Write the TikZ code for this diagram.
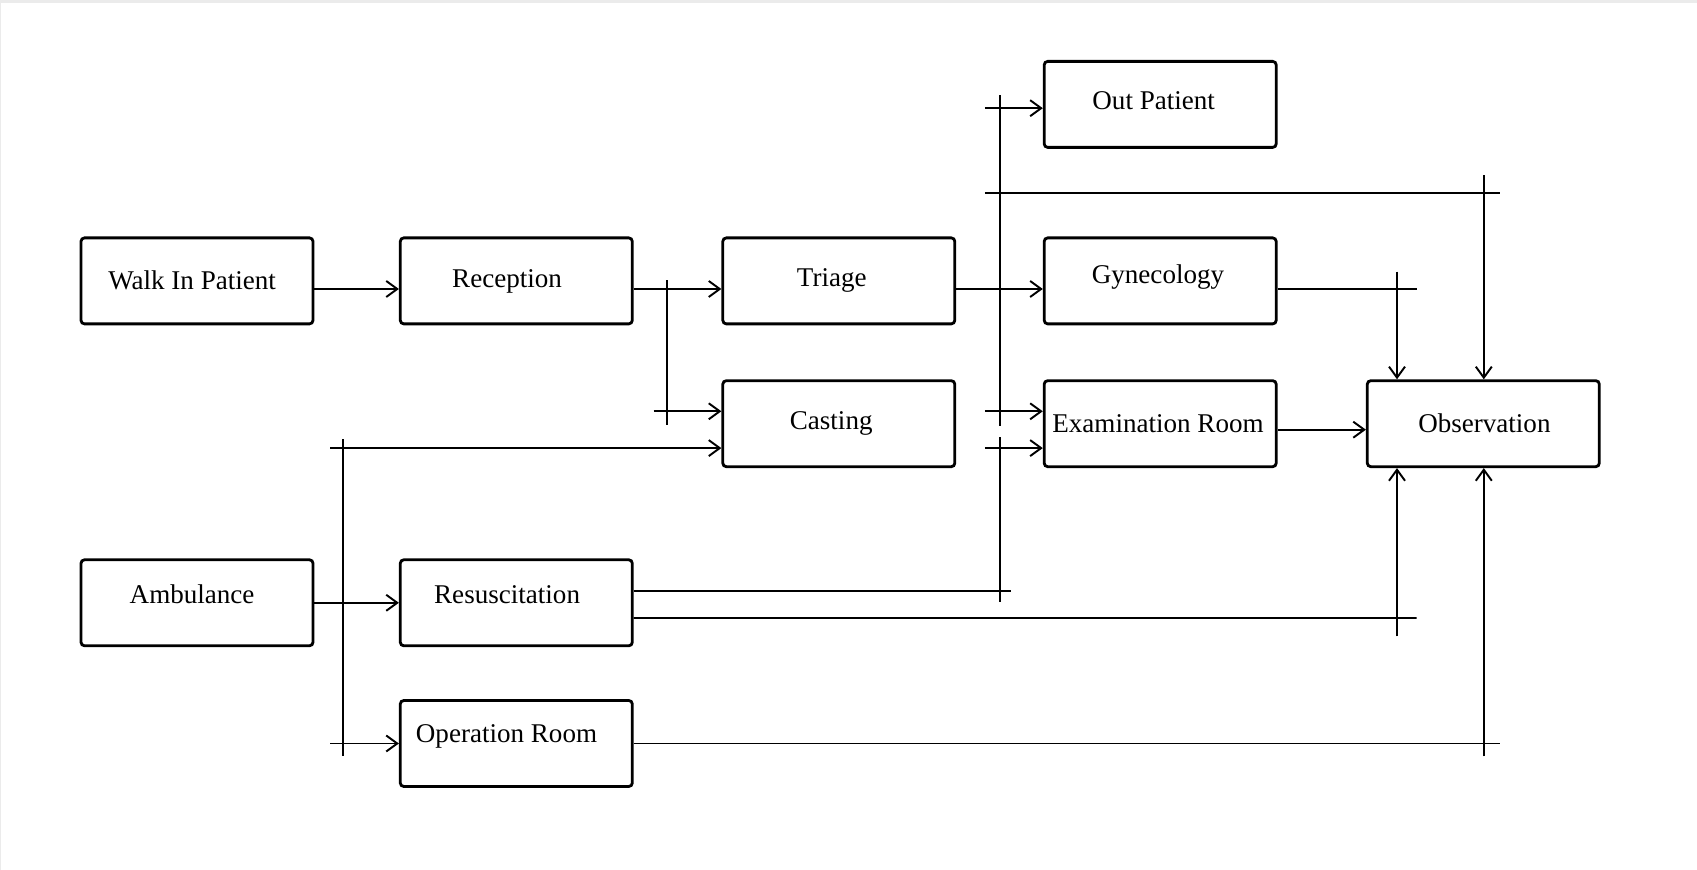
\documentclass[tikz,border=0pt]{standalone}
\usepackage{fontspec}
\setmainfont{Liberation Serif}
\usepackage{xcolor}
\definecolor{edgegray}{RGB}{235,235,235}
\usepackage{tikz}
\usetikzlibrary{arrows.meta, positioning, calc}

\begin{document}
\begin{tikzpicture}[
  room/.style={rectangle, rounded corners=1pt, draw=black, line width=0.8pt,
               minimum width=2.32cm, minimum height=0.86cm, inner sep=0pt},
  rtext/.style={font=\fontsize{7.7}{9}\selectfont, inner sep=0pt},
  flow/.style={line width=0.55pt, -{Straight Barb[length=1.1mm, width=1.6mm]}},
  wire/.style={line width=0.55pt}
]
\useasboundingbox (0,0) rectangle (16.97,-8.70);
\fill[edgegray] (0,0) rectangle (16.97,-0.03);
\fill[edgegray] (0,0) rectangle (0.012,-8.70);

% Rooms
\node[room] (walk) at (1.970,-2.809) {};
\node[rtext] (walk-t) at (1.921,-2.803) {Walk In Patient};
\node[room] (rec) at (5.163,-2.809) {};
\node[rtext] (rec-t) at (5.071,-2.814) {Reception};
\node[room] (tri) at (8.388,-2.809) {};
\node[rtext] (tri-t) at (8.318,-2.803) {Triage};
\node[room] (cast) at (8.388,-4.237) {};
\node[rtext] (cast-t) at (8.312,-4.237) {Casting};
\node[room] (outp) at (11.602,-1.044) {};
\node[rtext] (outp-t) at (11.537,-1.006) {Out Patient};
\node[room] (gyn) at (11.602,-2.809) {};
\node[rtext] (gyn-t) at (11.580,-2.771) {Gynecology};
\node[room] (exam) at (11.602,-4.237) {};
\node[rtext] (exam-t) at (11.580,-4.237) {Examination Room};
\node[room] (obs) at (14.833,-4.237) {};
\node[rtext] (obs-t) at (14.844,-4.237) {Observation};
\node[room] (amb) at (1.970,-6.028) {};
\node[rtext] (amb-t) at (1.921,-5.942) {Ambulance};
\node[room] (res) at (5.163,-6.028) {};
\node[rtext] (res-t) at (5.071,-5.942) {Resuscitation};
\node[room] (op) at (5.163,-7.435) {};
\node[rtext] (op-t) at (5.065,-7.360) {Operation Room};

% Junction points
\coordinate (rbus-top) at (6.667,-2.803);
\coordinate (rbus-bot) at (6.667,-4.253);
\coordinate (rbus-in) at (6.537,-4.113);
\coordinate (tbus-top) at (10.000,-0.952);
\coordinate (tbus-bot) at (10.000,-4.264);
\coordinate (tbus-op) at (9.849,-1.082);
\coordinate (tbus-ob) at (9.849,-1.926);
\coordinate (tbus-ex) at (9.849,-4.113);
\coordinate (top-end) at (15.001,-1.926);
\coordinate (top-drop) at (14.838,-1.753);
\coordinate (lbus-top) at (10.000,-4.372);
\coordinate (lbus-bot) at (10.000,-6.018);
\coordinate (lbus-ex) at (9.849,-4.481);
\coordinate (lbus-in) at (10.109,-5.909);
\coordinate (gyn-end) at (14.167,-2.890);
\coordinate (gyn-drop) at (13.970,-2.717);
\coordinate (res-end) at (14.167,-6.180);
\coordinate (res-rise) at (13.970,-6.364);
\coordinate (op-end) at (15.001,-7.435);
\coordinate (op-rise) at (14.838,-7.565);
\coordinate (abus-top) at (3.431,-4.394);
\coordinate (abus-bot) at (3.431,-7.565);
\coordinate (abus-cast) at (3.301,-4.481);
\coordinate (abus-op) at (3.301,-7.435);

% Walk in path
\draw[flow] ([yshift=-0.081cm]walk.east) -- ([yshift=-0.081cm]rec.west);
\draw[flow] ([yshift=-0.081cm]rec.east) -- ([yshift=-0.081cm]tri.west);
\draw[wire] (rbus-top) -- (rbus-bot);
\draw[flow] (rbus-in) -- (cast.west |- rbus-in);
\draw[flow] ([yshift=-0.081cm]tri.east) -- ([yshift=-0.081cm]gyn.west);

% Triage bus
\draw[wire] (tbus-top) -- (tbus-bot);
\draw[flow] (tbus-op) -- (outp.west |- tbus-op);
\draw[wire] (tbus-ob) -- (top-end);
\draw[flow] (top-drop) -- (obs.north -| top-drop);
\draw[flow] (tbus-ex) -- (exam.west |- tbus-ex);

% Into observation
\draw[wire] ([yshift=-0.081cm]gyn.east) -- (gyn-end);
\draw[flow] (gyn-drop) -- (obs.north -| gyn-drop);
\draw[flow] ([yshift=-0.060cm]exam.east) -- ([yshift=-0.060cm]obs.west);

% Ambulance path
\draw[flow] (amb.east) -- (res.west);
\draw[wire] (abus-top) -- (abus-bot);
\draw[flow] (abus-cast) -- (cast.west |- abus-cast);
\draw[flow] (abus-op) -- (op.west |- abus-op);

% Resuscitation outputs
\draw[wire] ([yshift=0.119cm]res.east) -- (lbus-in);
\draw[wire] (lbus-top) -- (lbus-bot);
\draw[flow] (lbus-ex) -- (exam.west |- lbus-ex);
\draw[wire] ([yshift=-0.152cm]res.east) -- (res-end);
\draw[flow] (res-rise) -- (obs.south -| res-rise);

% Operation room output
\draw[wire] (op.east) -- (op-end);
\draw[flow] (op-rise) -- (obs.south -| op-rise);
\end{tikzpicture}
\end{document}
